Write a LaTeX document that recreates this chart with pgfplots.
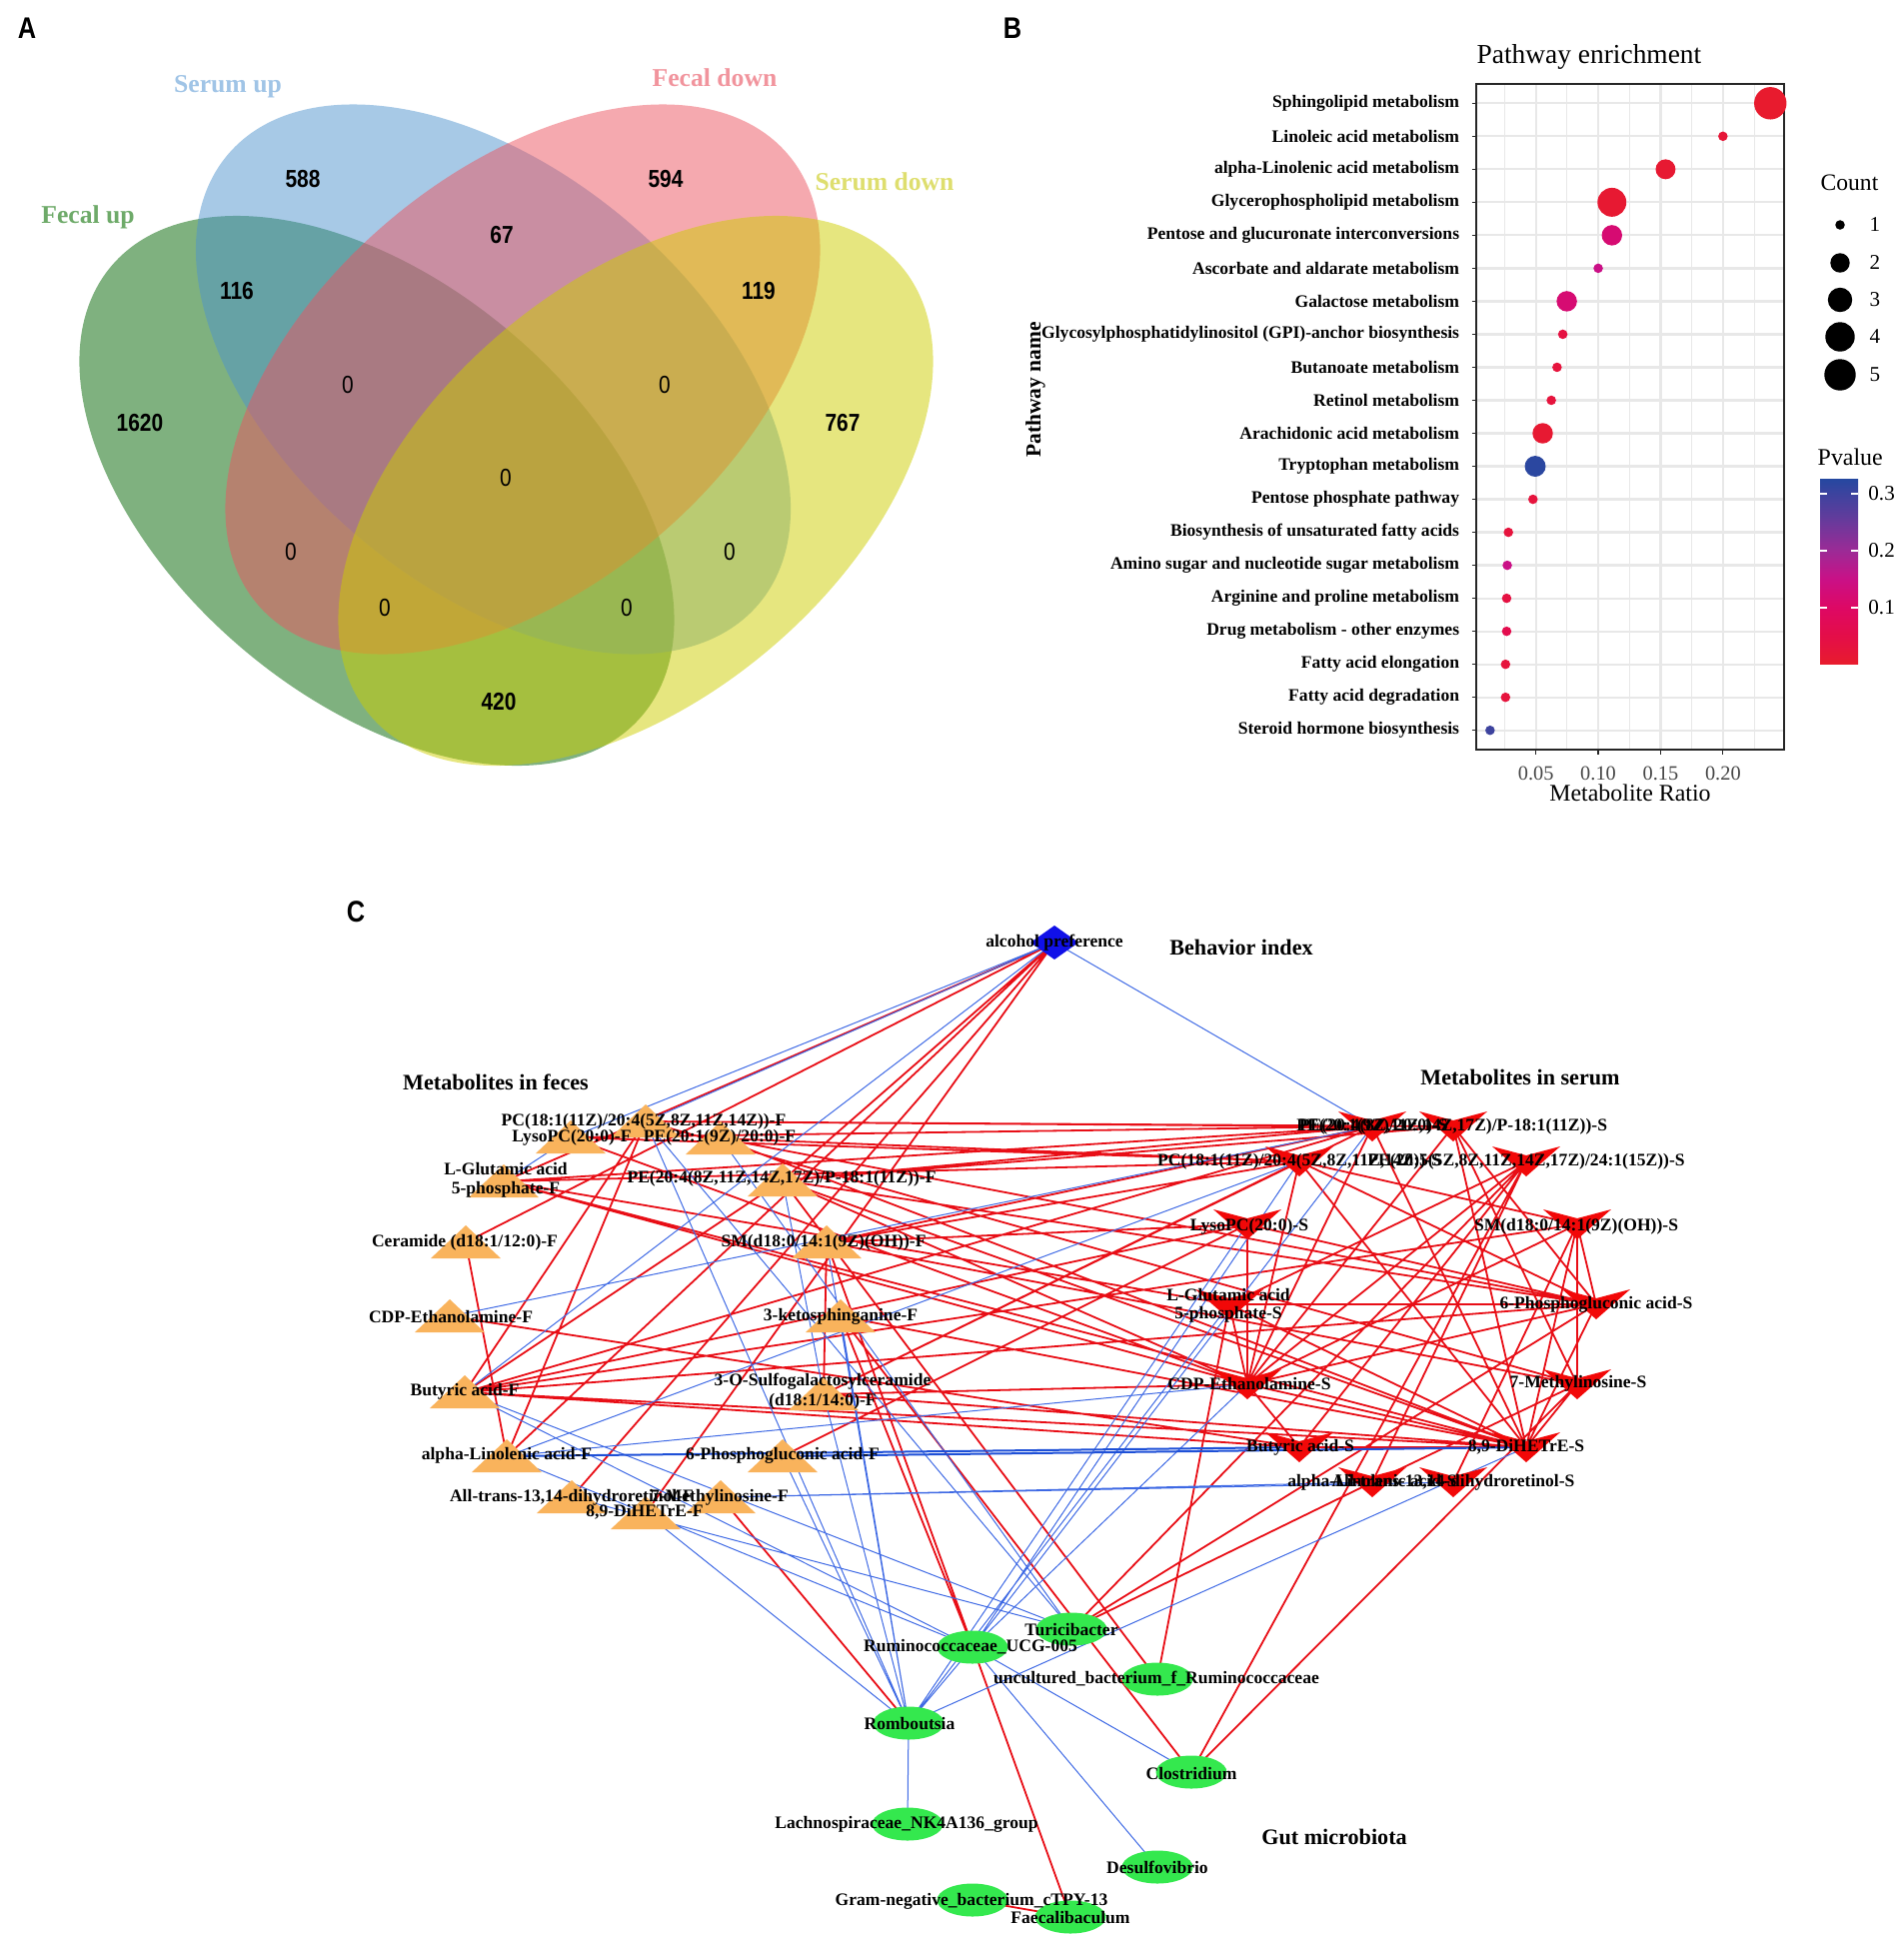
\documentclass[border=0pt]{standalone}
\usepackage{fontspec}
\setmainfont{Liberation Serif}
\newfontfamily\narrowsans[FakeStretch=0.85]{Liberation Sans}
\usepackage{pgfplots}
\usepackage{pgfplotstable}
\pgfplotsset{compat=1.18}

% colours
\definecolor{vgreen}{RGB}{0,100,0}
\definecolor{vblue}{RGB}{79,148,205}
\definecolor{vpink}{RGB}{236,84,96}
\definecolor{vyellow}{RGB}{205,205,0}
\definecolor{tgreen}{RGB}{110,170,105}
\definecolor{tblue}{RGB}{160,196,230}
\definecolor{tpink}{RGB}{241,148,157}
\definecolor{tyellow}{RGB}{222,222,110}
\definecolor{edgered}{RGB}{232,14,22}
\definecolor{edgeblue}{RGB}{62,105,228}
\definecolor{edgeblue2}{RGB}{30,80,215}
\definecolor{orangeF}{RGB}{249,179,92}
\definecolor{redS}{RGB}{242,8,8}
\definecolor{blueD}{RGB}{16,16,232}
\definecolor{greenM}{RGB}{52,232,78}

% node shapes of panel C
\pgfdeclareplotmark{ftri}{%
  \pgfpathmoveto{\pgfpoint{-3.5mm}{-1.6mm}}%
  \pgfpathlineto{\pgfpoint{3.5mm}{-1.6mm}}%
  \pgfpathlineto{\pgfpoint{0mm}{1.7mm}}%
  \pgfpathclose\pgfusepathqfill}
\pgfdeclareplotmark{schev}{%
  \pgfpathmoveto{\pgfpoint{-3.4mm}{1.5mm}}%
  \pgfpathlineto{\pgfpoint{0mm}{0.6mm}}%
  \pgfpathlineto{\pgfpoint{3.4mm}{1.5mm}}%
  \pgfpathlineto{\pgfpoint{0mm}{-1.5mm}}%
  \pgfpathclose\pgfusepathqfill}
\pgfdeclareplotmark{bdia}{%
  \pgfpathmoveto{\pgfpoint{-2.4mm}{0mm}}%
  \pgfpathlineto{\pgfpoint{0mm}{1.7mm}}%
  \pgfpathlineto{\pgfpoint{2.4mm}{0mm}}%
  \pgfpathlineto{\pgfpoint{0mm}{-1.7mm}}%
  \pgfpathclose\pgfusepathqfill}
\pgfdeclareplotmark{gell}{%
  \pgfpathellipse{\pgfpointorigin}{\pgfpoint{3.55mm}{0mm}}{\pgfpoint{0mm}{1.65mm}}%
  \pgfusepathqfill}

\pgfplotsset{
  colormap={pv}{rgb255(0cm)=(232,28,44) rgb255(5cm)=(228,14,72) rgb255(10cm)=(222,8,100) rgb255(15cm)=(202,16,134) rgb255(20cm)=(156,42,150) rgb255(26cm)=(96,60,156) rgb255(32.8cm)=(36,72,160)},
  txt/.style={only marks, mark=none, nodes near coords={\pgfplotspointmeta},
    point meta=explicit symbolic,
    every node near coord/.append style={anchor=center, inner sep=0pt, #1}},
}

% panel B data
\pgfplotstableread[col sep=semicolon]{
name;y;ratio;p;d
Sphingolipid metabolism;1;0.238;0.004;31
Linoleic acid metabolism;2;0.200;0.020;8
alpha-Linolenic acid metabolism;3;0.154;0.010;18.5
Glycerophospholipid metabolism;4;0.111;0.010;27.5
Pentose and glucuronate interconversions;5;0.111;0.120;19
Ascorbate and aldarate metabolism;6;0.100;0.150;8
Galactose metabolism;7;0.0748;0.120;19
Glycosylphosphatidylinositol (GPI)-anchor biosynthesis;8;0.0716;0.040;8
Butanoate metabolism;9;0.067;0.030;8
Retinol metabolism;10;0.0624;0.030;8
Arachidonic acid metabolism;11;0.0555;0.010;19
Tryptophan metabolism;12;0.0495;0.320;19.5
Pentose phosphate pathway;13;0.0477;0.030;8
Biosynthesis of unsaturated fatty acids;14;0.028;0.030;8
Amino sugar and nucleotide sugar metabolism;15;0.0271;0.150;8
Arginine and proline metabolism;16;0.0266;0.040;8
Drug metabolism - other enzymes;17;0.0266;0.060;8
Fatty acid elongation;18;0.0257;0.030;8
Fatty acid degradation;19;0.0257;0.030;8
Steroid hormone biosynthesis;20;0.0133;0.300;8
}\pathtab

% panel C labels
\pgfplotstableread[col sep=semicolon]{
x;y;t
1055;943;alcohol preference
572;1138;LysoPC(20:0)-F
720;1138;PE(20:1(9Z)/20:0)-F
644;1122;PC(18:1(11Z)/20:4(5Z,8Z,11Z,14Z))-F
506;1169;L-Glutamic acid
506;1190;5-phosphate-F
782;1179;PE(20:4(8Z,11Z,14Z,17Z)/P-18:1(11Z))-F
465;1243;Ceramide (d18:1/12:0)-F
824;1243;SM(d18:0/14:1(9Z)(OH))-F
451;1317;CDP-Ethanolamine-F
841;1317;3-ketosphinganine-F
465;1392;Butyric acid-F
823;1382;3-O-Sulfogalactosylceramide
823;1402;(d18:1/14:0)-F
507;1456;alpha-Linolenic acid-F
783;1456;6-Phosphogluconic acid-F
572;1498;All-trans-13,14-dihydroretinol-F
720;1498;7-Methylinosine-F
645;1513;8,9-DiHETrE-F
1373;1127;PE(20:1(9Z)/20:0)-S
1454;1127;PE(20:4(8Z,11Z,14Z,17Z)/P-18:1(11Z))-S
1300;1162;PC(18:1(11Z)/20:4(5Z,8Z,11Z,14Z))-S
1527;1162;PE(20:5(5Z,8Z,11Z,14Z,17Z)/24:1(15Z))-S
1250;1227;LysoPC(20:0)-S
1577;1227;SM(d18:0/14:1(9Z)(OH))-S
1229;1295;L-Glutamic acid
1229;1315;5-phosphate-S
1597;1305;6-Phosphogluconic acid-S
1250;1384;CDP-Ethanolamine-S
1579;1384;7-Methylinosine-S
1301;1448;Butyric acid-S
1527;1448;8,9-DiHETrE-S
1373;1483;alpha-Linolenic acid-S
1454;1483;All-trans-13,14-dihydroretinol-S
1072;1630;Turicibacter
971;1648;Ruminococcaceae\_UCG-005
1157;1680;uncultured\_bacterium\_f\_Ruminococcaceae
910;1724;Romboutsia
1192;1774;Clostridium
907;1825;Lachnospiraceae\_NK4A136\_group
1158;1868;Desulfovibrio
972;1902;Gram-negative\_bacterium\_cTPY-13
1071;1918;Faecalibaculum
}\netlabels

\begin{document}
\begin{tikzpicture}
\useasboundingbox (0,0) rectangle (190.4mm,194.2mm);

% ---------- canvas axis for panels A and C (pixel units, y down) ----------
\begin{axis}[
  at={(0,0)}, anchor=south west,
  scale only axis, width=190.4mm, height=194.2mm,
  xmin=0, xmax=1904, ymin=0, ymax=1942, y dir=reverse,
  hide axis, clip=false, unbounded coords=jump,
]
% panel A: four-set Venn diagram
\fill[vgreen, fill opacity=0.5, rotate around={-40.25:(axis cs:377,491)}]
  (axis cs:377,491) ellipse [x radius=34.8mm, y radius=20.75mm];
\fill[vblue, fill opacity=0.5, rotate around={-40.25:(axis cs:493.5,379.5)}]
  (axis cs:493.5,379.5) ellipse [x radius=34.8mm, y radius=20.75mm];
\fill[vpink, fill opacity=0.5, rotate around={40.25:(axis cs:523,379.5)}]
  (axis cs:523,379.5) ellipse [x radius=34.8mm, y radius=20.75mm];
\fill[vyellow, fill opacity=0.5, rotate around={40.25:(axis cs:636,491)}]
  (axis cs:636,491) ellipse [x radius=34.8mm, y radius=20.75mm];

\addplot[txt={font=\narrowsans\bfseries\fontsize{7}{8}\selectfont}] table[meta=t] {
x y t
303 179 588
666 179 594
502 235 67
237 291 116
759 291 119
140 423 1620
843 423 767
499 702 420
};
\addplot[txt={font=\narrowsans\fontsize{7}{8}\selectfont}] table[meta=t] {
x y t
348 385 0
665 385 0
506 478 0
291 552 0
730 552 0
385 608 0
627 608 0
};
\addplot[txt={font=\bfseries\fontsize{7.3}{8}\selectfont, text=tblue}] coordinates {(228,87) [Serum up]};
\addplot[txt={font=\bfseries\fontsize{7.3}{8}\selectfont, text=tpink}] coordinates {(715,78) [Fecal down]};
\addplot[txt={font=\bfseries\fontsize{7.3}{8}\selectfont, text=tyellow}] coordinates {(885,182) [Serum down]};
\addplot[txt={font=\bfseries\fontsize{7.3}{8}\selectfont, text=tgreen}] coordinates {(88,217) [Fecal up]};

% panel letters
\addplot[txt={font=\narrowsans\bfseries\fontsize{8.5}{9}\selectfont}] coordinates {
  (27,28) [A] (1013,28) [B] (356,912) [C]};

% panel B size legend
\addplot[txt={font=\fontsize{6.7}{8}\selectfont, anchor=west}] coordinates {(1821,183) [Count]};
\addplot[only marks, mark=*, black, mark size=0.4mm] coordinates {(1841,225)};
\addplot[only marks, mark=*, black, mark size=0.9mm] coordinates {(1841,263)};
\addplot[only marks, mark=*, black, mark size=1.15mm] coordinates {(1841,300)};
\addplot[only marks, mark=*, black, mark size=1.4mm] coordinates {(1841,337)};
\addplot[only marks, mark=*, black, mark size=1.5mm] coordinates {(1841,375)};
\addplot[txt={font=\fontsize{6}{7}\selectfont}] table[meta=t] {
x y t
1876 225 1
1876 263 2
1876 300 3
1876 337 4
1876 375 5
};

% panel C: edges (positive correlation)
\addplot[edgered, line width=0.18mm] coordinates {
(1055,943)(504,1182)(nan,nan)
(1055,943)(783,1181)(nan,nan)
(1055,943)(466,1243)(nan,nan)
(1055,943)(507,1457)(nan,nan)
(1055,943)(572,1498)(nan,nan)
(1055,943)(646,1514)(nan,nan)
(646,1122)(1373,1127)(nan,nan)
(646,1122)(1454,1127)(nan,nan)
(646,1122)(465,1393)(nan,nan)
(646,1122)(507,1457)(nan,nan)
(646,1122)(1578,1385)(nan,nan)
(571,1138)(1373,1127)(nan,nan)
(571,1138)(1300,1162)(nan,nan)
(571,1138)(1248,1385)(nan,nan)
(721,1139)(1300,1162)(nan,nan)
(721,1139)(1527,1448)(nan,nan)
(721,1139)(1597,1305)(nan,nan)
(504,1182)(1373,1127)(nan,nan)
(504,1182)(1300,1162)(nan,nan)
(504,1182)(1230,1305)(nan,nan)
(504,1182)(1248,1385)(nan,nan)
(504,1182)(1527,1448)(nan,nan)
(783,1181)(1373,1127)(nan,nan)
(783,1181)(1454,1127)(nan,nan)
(783,1181)(1248,1385)(nan,nan)
(783,1181)(1527,1448)(nan,nan)
(783,1181)(1597,1305)(nan,nan)
(783,1181)(465,1393)(nan,nan)
(783,1181)(1158,1680)(nan,nan)
(466,1243)(507,1457)(nan,nan)
(827,1243)(1373,1127)(nan,nan)
(827,1243)(1300,1162)(nan,nan)
(827,1243)(1248,1225)(nan,nan)
(827,1243)(1578,1385)(nan,nan)
(827,1243)(1071,1918)(nan,nan)
(827,1243)(824,1395)(nan,nan)
(450,1317)(1300,1448)(nan,nan)
(841,1317)(1527,1448)(nan,nan)
(841,1317)(973,1648)(nan,nan)
(841,1317)(1192,1773)(nan,nan)
(465,1393)(1248,1225)(nan,nan)
(465,1393)(1578,1225)(nan,nan)
(465,1393)(1597,1305)(nan,nan)
(465,1393)(1300,1448)(nan,nan)
(465,1393)(1527,1448)(nan,nan)
(465,1393)(1373,1127)(nan,nan)
(824,1395)(1373,1127)(nan,nan)
(824,1395)(1300,1162)(nan,nan)
(824,1395)(1248,1385)(nan,nan)
(824,1395)(1527,1448)(nan,nan)
(783,1457)(1248,1225)(nan,nan)
(721,1498)(909,1724)(nan,nan)
(1373,1127)(1248,1385)(nan,nan)
(1373,1127)(1527,1448)(nan,nan)
(1454,1127)(1248,1385)(nan,nan)
(1454,1127)(1578,1385)(nan,nan)
(1454,1127)(1527,1448)(nan,nan)
(1454,1127)(1597,1305)(nan,nan)
(1300,1162)(1248,1385)(nan,nan)
(1300,1162)(1527,1448)(nan,nan)
(1300,1162)(1597,1305)(nan,nan)
(1300,1162)(1578,1225)(nan,nan)
(1527,1162)(1248,1385)(nan,nan)
(1527,1162)(1373,1483)(nan,nan)
(1527,1162)(1300,1448)(nan,nan)
(1527,1162)(1230,1305)(nan,nan)
(1248,1225)(1597,1305)(nan,nan)
(1248,1225)(1248,1385)(nan,nan)
(1578,1225)(1248,1385)(nan,nan)
(1578,1225)(1527,1448)(nan,nan)
(1578,1225)(1597,1305)(nan,nan)
(1578,1225)(1578,1385)(nan,nan)
(1578,1225)(1454,1483)(nan,nan)
(1230,1305)(1597,1305)(nan,nan)
(1230,1305)(1527,1448)(nan,nan)
(1230,1305)(1248,1385)(nan,nan)
(1597,1305)(1248,1385)(nan,nan)
(1597,1305)(1527,1448)(nan,nan)
(1248,1385)(1300,1448)(nan,nan)
(1248,1385)(1527,1448)(nan,nan)
(1578,1385)(1527,1448)(nan,nan)
(1300,1448)(1527,1448)(nan,nan)
(1578,1385)(1373,1483)(nan,nan)
(1072,1630)(1527,1162)(nan,nan)
(1072,1630)(1597,1305)(nan,nan)
(1072,1630)(1373,1483)(nan,nan)
(1158,1680)(1230,1305)(nan,nan)
(1192,1773)(1527,1162)(nan,nan)
(1192,1773)(1578,1385)(nan,nan)
(973,1901)(1071,1918)
};
% edges (negative correlation)
\addplot[edgeblue, line width=0.1mm] coordinates {
(1055,943)(646,1122)(nan,nan)
(1055,943)(571,1138)(nan,nan)
(1055,943)(465,1393)(nan,nan)
(1055,943)(1373,1127)(nan,nan)
(646,1122)(1072,1630)(nan,nan)
(646,1122)(909,1724)(nan,nan)
(721,1139)(1072,1630)(nan,nan)
(827,1243)(909,1724)(nan,nan)
(841,1317)(909,1724)(nan,nan)
(824,1395)(909,1724)(nan,nan)
(783,1457)(909,1724)(nan,nan)
(646,1514)(909,1724)(nan,nan)
(465,1393)(1072,1630)(nan,nan)
(465,1393)(973,1648)(nan,nan)
(507,1457)(973,1648)(nan,nan)
(572,1498)(1072,1630)(nan,nan)
(450,1317)(1373,1127)(nan,nan)
(507,1457)(1300,1162)(nan,nan)
(507,1457)(1248,1385)(nan,nan)
(721,1498)(1373,1483)(nan,nan)
(721,1498)(1454,1483)(nan,nan)
(973,1648)(1373,1127)(nan,nan)
(973,1648)(1300,1162)(nan,nan)
(973,1648)(1248,1385)(nan,nan)
(909,1724)(1248,1225)(nan,nan)
(909,1724)(1230,1305)(nan,nan)
(909,1724)(1527,1448)(nan,nan)
(973,1648)(909,1724)(nan,nan)
(909,1724)(908,1825)(nan,nan)
(973,1648)(1192,1773)(nan,nan)
(973,1648)(1158,1868)(nan,nan)
(571,1138)(504,1182)(nan,nan)
(783,1181)(824,1395)
};
\addplot[edgeblue2, line width=0.2mm] coordinates {
(507,1457)(1300,1448)(nan,nan)
(783,1457)(1527,1448)
};

% nodes
\addplot[only marks, mark=bdia, blueD] coordinates {(1055,943)};
\addplot[only marks, mark=ftri, orangeF] coordinates {
(646,1122)(571,1138)(721,1139)(504,1182)(783,1181)(466,1243)(827,1243)
(450,1317)(841,1317)(465,1393)(824,1395)(507,1457)(783,1457)
(572,1498)(721,1498)(646,1514)};
\addplot[only marks, mark=schev, redS] coordinates {
(1373,1127)(1454,1127)(1300,1162)(1527,1162)(1248,1225)(1578,1225)
(1230,1305)(1597,1305)(1248,1385)(1578,1385)(1300,1448)(1527,1448)
(1373,1483)(1454,1483)};
\addplot[only marks, mark=gell, greenM] coordinates {
(1072,1630)(973,1648)(1158,1680)(909,1724)(1192,1773)(908,1825)
(1158,1868)(973,1901)(1071,1918)};

% labels
\addplot[txt={font=\bfseries\fontsize{5}{6}\selectfont}] table[x=x, y=y, meta=t] {\netlabels};
\addplot[txt={font=\bfseries\fontsize{6.3}{7}\selectfont}] coordinates {
  (1242,948) [Behavior index]
  (496,1083) [Metabolites in feces]
  (1521,1078) [Metabolites in serum]
  (1335,1838) [Gut microbiota]};
\end{axis}

% ---------- panel B: pathway enrichment bubble chart ----------
\begin{axis}[
  at={(147.7mm,119.2mm)}, anchor=south west,
  scale only axis, width=30.8mm, height=66.6mm,
  xmin=0.0022, xmax=0.249, ymin=0.415, ymax=20.585, y dir=reverse,
  xtick={0.05,0.10,0.15,0.20},
  minor xtick={0.025,0.075,0.125,0.175,0.225},
  ytick={1,...,20}, yticklabels from table={\pathtab}{name},
  grid=both,
  major grid style={line width=0.22mm, color=black!9},
  minor grid style={line width=0.11mm, color=black!9},
  minor tick length=0pt, major tick length=0.45mm,
  tick align=outside, xtick pos=bottom, ytick pos=left,
  tick style={line width=0.12mm, color=black!85},
  axis line style={line width=0.15mm, color=black!85},
  /pgf/number format/assume math mode=true,
  xticklabel style={font=\fontsize{5.8}{7}\selectfont, text=black!72,
    /pgf/number format/fixed, /pgf/number format/fixed zerofill,
    /pgf/number format/precision=2},
  yticklabel style={font=\bfseries\fontsize{5}{6}\selectfont, text=black},
  title={Pathway enrichment},
  title style={at={(axis description cs:0,1.0405)}, anchor=west,
    yshift=-6pt, inner sep=0pt, font=\fontsize{7.8}{9}\selectfont},
  xlabel={Metabolite Ratio},
  xlabel style={at={(axis description cs:0.5,-0.0646)}, anchor=center,
    font=\fontsize{6.8}{8}\selectfont},
  ylabel={Pathway name},
  ylabel style={at={(axis description cs:-1.432,0.5405)}, anchor=center,
    font=\bfseries\fontsize{6.1}{7}\selectfont},
  colormap name=pv, point meta min=0, point meta max=0.328,
  colorbar,
  colorbar shift/.style={xshift=3.6mm},
  colorbar style={
    at={(parent axis.south east)}, anchor=south west,
    yshift=8.5mm,
    scale only axis, width=3.8mm, height=18.7mm,
    ytick={0.1,0.2,0.3}, ytick pos=both, yticklabel pos=right,
    tick align=inside, major tick length=0.7mm,
    tick style={white, line width=0.12mm},
    axis line style={draw=none},
    /pgf/number format/assume math mode=true,
    yticklabel style={font=\fontsize{6}{7}\selectfont, xshift=-0.2mm,
      /pgf/number format/fixed, /pgf/number format/precision=1},
    title={Pvalue},
    title style={at={(axis description cs:0,1.112)}, anchor=west,
      yshift=-6pt, xshift=-0.3mm, inner sep=0pt,
      font=\fontsize{6.8}{8}\selectfont},
  },
]
\addplot[scatter, only marks, mark=*,
  point meta=\thisrow{p},
  scatter/use mapped color={draw=mapped color, fill=mapped color},
  visualization depends on={\thisrow{d}\as\dd},
  scatter/@pre marker code/.append style={/tikz/mark size=0.05mm*\dd}]
  table[x=ratio, y=y] {\pathtab};
\end{axis}
\end{tikzpicture}
\end{document}
